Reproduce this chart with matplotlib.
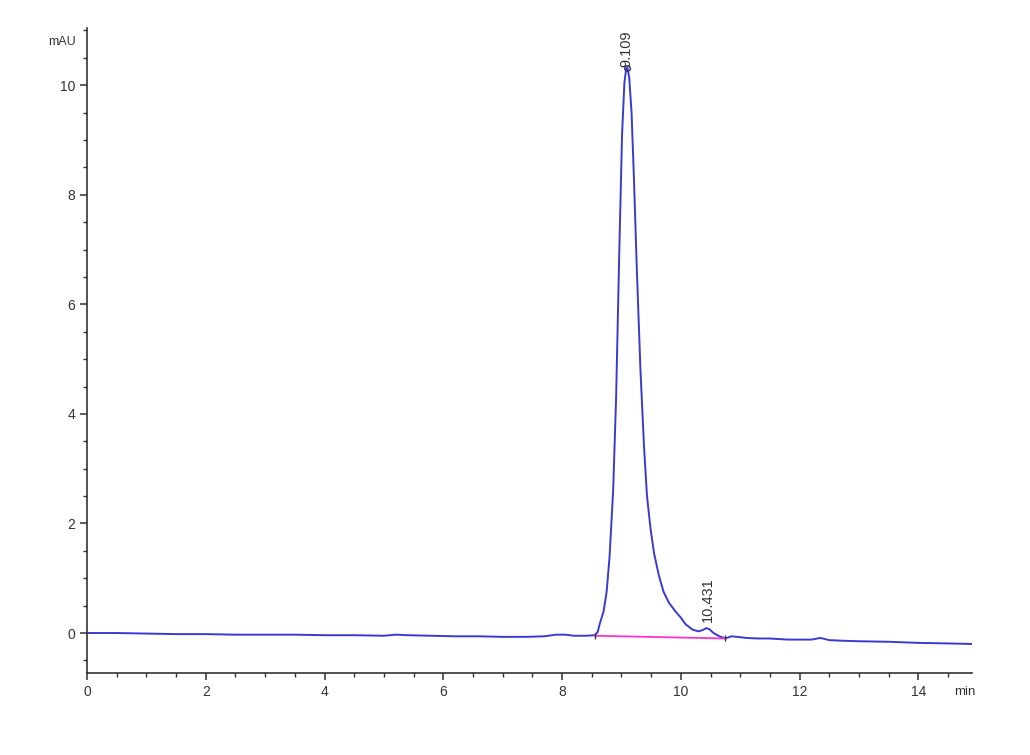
import matplotlib
matplotlib.use("Agg")
import matplotlib.pyplot as plt
from matplotlib.ticker import MultipleLocator

# chromatogram trace (min, mAU)
time = [0.0, 0.5, 1.0, 1.5, 2.0, 2.5, 3.0, 3.5, 4.0, 4.5, 5.0, 5.2, 5.4, 5.8,
        6.2, 6.6, 7.0, 7.4, 7.7, 7.9, 8.05, 8.2, 8.4, 8.55, 8.6, 8.63, 8.7,
        8.75, 8.8, 8.86, 8.91, 8.96, 9.01, 9.05, 9.08, 9.1, 9.13, 9.17, 9.21,
        9.26, 9.32, 9.38, 9.43, 9.49, 9.55, 9.63, 9.71, 9.8, 9.92, 10.0,
        10.08, 10.2, 10.3, 10.38, 10.43, 10.48, 10.55, 10.65, 10.75, 10.85,
        10.95, 11.1, 11.3, 11.5, 11.8, 12.0, 12.2, 12.35, 12.5, 12.7, 13.0,
        13.5, 14.0, 14.5, 14.9]
signal = [0.0, 0.0, -0.01, -0.02, -0.02, -0.03, -0.03, -0.03, -0.04, -0.04,
          -0.05, -0.03, -0.04, -0.05, -0.06, -0.06, -0.07, -0.07, -0.06, -0.03,
          -0.03, -0.05, -0.05, -0.04, 0.02, 0.15, 0.4, 0.75, 1.4, 2.6, 4.3,
          6.8, 9.1, 10.05, 10.3, 10.32, 10.15, 9.5, 8.3, 6.6, 4.8, 3.4, 2.5,
          1.9, 1.45, 1.05, 0.75, 0.55, 0.38, 0.28, 0.16, 0.06, 0.03, 0.06,
          0.09, 0.07, 0.0, -0.06, -0.1, -0.06, -0.07, -0.09, -0.1, -0.1,
          -0.12, -0.12, -0.12, -0.09, -0.13, -0.14, -0.15, -0.16, -0.18,
          -0.19, -0.2]

# integration baseline and peak labels
base_t = [8.55, 10.75]
base_v = [-0.05, -0.1]
peak_rt = [9.109, 10.431]
peak_h = [10.32, 0.09]
peak_txt = ['9.109', '10.431']

fig = plt.figure(figsize=(10.3, 7.55), dpi=100)
ax = fig.add_axes([0.0845, 0.1086, 0.859, 0.854])

ax.plot(time, signal, color='#3a3ad2', lw=1.4)
ax.plot(base_t, base_v, color='#ff33cc', lw=1.3)
ax.plot(base_t, base_v, ls='none', marker='|', color='#333333', ms=4)
ax.plot(peak_rt[0] - 0.02, peak_h[0], ls='none', marker='o', ms=4,
        mfc='none', mec='#333366', mew=1)

offs = [(-0.02, 0.02), (0.03, 0.12)]
for t, h, s, o in zip(peak_rt, peak_h, peak_txt, offs):
    ax.text(t + o[0], h + o[1], s, rotation=90, ha='center', va='bottom',
            fontsize=10.5, color='#333333', family='Liberation Sans')

ax.set_xlim(0, 14.9)
ax.set_ylim(-0.73, 11.04)
ax.xaxis.set_major_locator(MultipleLocator(2))
ax.xaxis.set_minor_locator(MultipleLocator(0.5))
ax.yaxis.set_major_locator(MultipleLocator(2))
ax.yaxis.set_minor_locator(MultipleLocator(0.5))

for s in ['top', 'right']:
    ax.spines[s].set_visible(False)
for s in ['left', 'bottom']:
    ax.spines[s].set_color('#333333')
    ax.spines[s].set_linewidth(1.2)

ax.tick_params(which='major', direction='out', length=5, width=1.1,
               colors='#333333', labelsize=10)
ax.tick_params(which='minor', direction='out', length=3, width=1.0,
               colors='#333333')
for lab in ax.get_xticklabels() + ax.get_yticklabels():
    lab.set_family('Liberation Sans')

fig.text(0.074, 0.945, 'mAU', ha='right', va='center', fontsize=9,
         color='#333333', family='Liberation Sans')
fig.text(0.937, 0.083, 'min', ha='center', va='center', fontsize=9.5,
         color='#333333', family='Liberation Sans')

fig.savefig('out.png', dpi=100)
